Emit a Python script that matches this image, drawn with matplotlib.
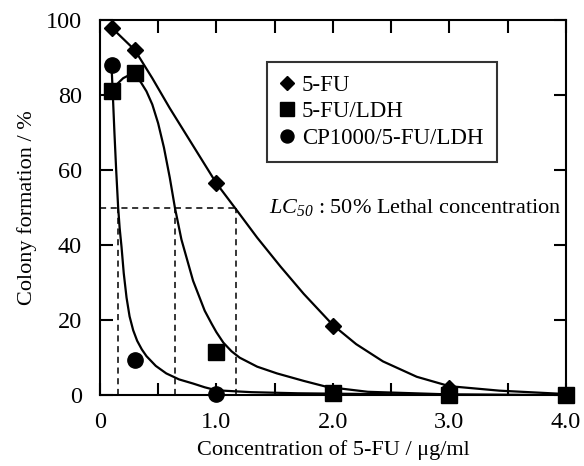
import matplotlib.pyplot as plt
from matplotlib.ticker import MultipleLocator, FixedFormatter, FixedLocator

plt.rcParams['font.family'] = ['Liberation Serif', 'DejaVu Serif']
# all math text in italic serif (only used for LC_50)
plt.rcParams['mathtext.fontset'] = 'custom'
plt.rcParams['mathtext.rm'] = 'Liberation Serif:italic'
plt.rcParams['mathtext.it'] = 'Liberation Serif:italic'
plt.rcParams['mathtext.default'] = 'it'

# measured points
conc = [0.1, 0.3, 1.0, 2.0, 3.0, 4.0]
fu = [98, 92, 56.5, 18.5, 2.0, 0]
fu_ldh = [81, 86, 11.5, 0.5, 0, 0]
cp_conc = [0.1, 0.3, 1.0]
cp = [88, 9.3, 0.4]

# fitted curves
fu_fit_x = [0.1, 0.2, 0.3, 0.45, 0.6, 0.8, 1.0, 1.17, 1.35, 1.55, 1.75, 2.0, 2.2, 2.43, 2.72, 3.0, 3.43, 4.0]
fu_fit_y = [98, 95, 92, 84.5, 76.5, 66.5, 56.5, 49.5, 42, 34.3, 27.0, 18.7, 13.6, 9.0, 4.9, 2.4, 1.2, 0.3]
ldh_fit_x = [0.1, 0.15, 0.2, 0.25, 0.3, 0.35, 0.4, 0.45, 0.5, 0.55, 0.6, 0.644, 0.7, 0.8, 0.9, 0.96, 1.0, 1.06, 1.13, 1.2, 1.35, 1.52, 1.75, 1.95, 2.3, 3.0, 4.0]
ldh_fit_y = [81, 83, 84.5, 85.3, 85, 83.5, 81, 77.5, 72.5, 66, 58, 50, 41.5, 30.5, 22.5, 19, 16.8, 14, 11.7, 10, 7.6, 5.8, 3.8, 2.2, 0.9, 0.2, 0]
cp_fit_x = [0.1, 0.11, 0.125, 0.14, 0.157, 0.17, 0.186, 0.205, 0.229, 0.255, 0.286, 0.32, 0.36, 0.4, 0.48, 0.57, 0.68, 0.8, 0.9, 1.0, 1.3, 1.7, 2.0, 3.0, 4.0]
cp_fit_y = [88, 81, 70, 60, 50, 44.5, 39.5, 32.5, 26, 21, 17.3, 14.5, 12.2, 10.4, 7.8, 5.8, 4.2, 3.1, 2.1, 1.3, 0.8, 0.5, 0.4, 0.1, 0]

lc50 = [0.157, 0.644, 1.165]

fig = plt.figure(figsize=(5.84, 4.66), dpi=100)
ax = fig.add_axes([0.171, 0.152, 0.798, 0.805])

ax.plot(fu_fit_x, fu_fit_y, color='black', lw=1.6)
ax.plot(ldh_fit_x, ldh_fit_y, color='black', lw=1.6)
ax.plot(cp_fit_x, cp_fit_y, color='black', lw=1.6)

ax.plot([0, max(lc50)], [50, 50], color='black', ls=(0, (4, 3)), lw=1.1)
for v in lc50:
    ax.plot([v, v], [0, 50], color='black', ls=(0, (4, 3)), lw=1.1)

ax.plot(conc, fu, 'D', color='black', ms=8.5, label='5-FU', clip_on=False)
ax.plot(conc, fu_ldh, 's', color='black', ms=12, label='5-FU/LDH', clip_on=False)
ax.plot(cp_conc, cp, 'o', color='black', ms=11, label='CP1000/5-FU/LDH', clip_on=False)

ax.set_xlim(0, 4)
ax.set_ylim(0, 100)
ax.xaxis.set_major_locator(FixedLocator([0, 1, 2, 3, 4]))
ax.xaxis.set_major_formatter(FixedFormatter(['0', '1.0', '2.0', '3.0', '4.0']))
ax.xaxis.set_minor_locator(MultipleLocator(0.5))
ax.yaxis.set_major_locator(MultipleLocator(20))
ax.tick_params(which='both', direction='in', top=True, right=True, length=9, width=1.5, labelsize=17.5)
ax.tick_params(axis='x', pad=12)
ax.tick_params(axis='y', pad=13)
for s in ax.spines.values():
    s.set_linewidth(1.5)

ax.set_xlabel('Concentration of 5-FU / μg/ml', fontsize=16, labelpad=5)
ax.set_ylabel('Colony formation / %', fontsize=16, labelpad=6)

ax.text(0.363, 0.50, r'$LC_{50}$ : 50% Lethal concentration', transform=ax.transAxes,
        fontsize=16, ha='left', va='center')

leg = ax.legend(loc='upper left', bbox_to_anchor=(0.358, 0.888), frameon=True, fancybox=False,
                edgecolor='black', fontsize=16.5, handlelength=0.6, handletextpad=0.35,
                borderpad=0.58, labelspacing=0.22, borderaxespad=0, markerscale=0.85)
leg.get_frame().set_linewidth(1.5)

fig.savefig('out.png', dpi=100)
